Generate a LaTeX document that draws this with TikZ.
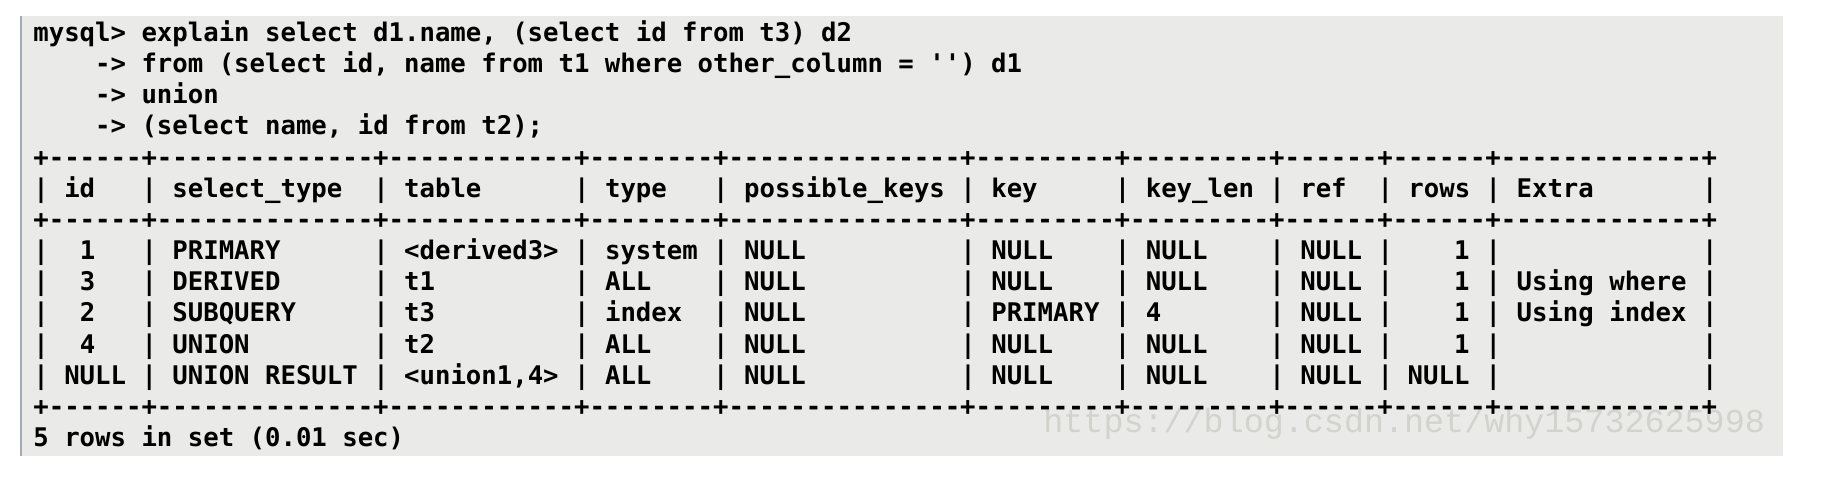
\documentclass[tikz,border=0pt]{standalone}
\usepackage{fontspec}
\setmonofont{DejaVu Sans Mono}
\newfontfamily\markfont{Liberation Mono}
\definecolor{termbg}{HTML}{EAEAE8}
\definecolor{termedge}{HTML}{A2A8B4}
\definecolor{markgray}{HTML}{D3D3CD}
\newcommand\dashrun[1]{\foreach \i in {1,...,#1}{-}}
\newcommand\tblrule{+\dashrun{6}+\dashrun{14}+\dashrun{12}+\dashrun{8}+\dashrun{15}+\dashrun{9}+\dashrun{9}+\dashrun{6}+\dashrun{6}+\dashrun{13}+}
\tikzset {
  % one run of terminal text, set on its base line
  tty/.style = {
    anchor = base west,
    inner sep = 0,
    font = \ttfamily\bfseries\fontsize{12.83pt}{15pt}\selectfont
  },
  % number column, flush right
  ttyr/.style = {
    tty,
    anchor = base east
  },
  % faint blog address
  wmark/.style = {
    anchor = base west,
    inner sep = 0,
    text = markgray,
    font = \markfont\fontsize{16.7pt}{18pt}\selectfont
  }
}

\begin{document}
\begin{tikzpicture}[x=0.5pt, y=-0.5pt]
  \useasboundingbox (0,0) rectangle (1824,482);
  \fill[white] (0,0) rectangle (1824,482);
  \fill[termbg] (20,16) rectangle (1783,456);
  \draw[termedge, line width=1pt] (21,16) -- (21,456);
  \node[wmark] (blog) at (1043,432) {https://blog.csdn.net/why15732625998};

  \begin{scope}[shift={(33,41.5)}, x=7.725pt, y=-15.575pt]
    \node[tty] (query) at (0,0) {mysql> explain select d1.name, (select id from t3) d2};
    \node[tty] (query-from) at (4,1) {-> from (select id, name from t1 where other\_column = '') d1};
    \node[tty] (query-union) at (4,2) {-> union};
    \node[tty] (query-t2) at (4,3) {-> (select name, id from t2);};

    \node[tty] (rule-top) at (0,4) {\tblrule};
    \node[tty] (rule-mid) at (0,6) {\tblrule};
    \node[tty] (rule-end) at (0,12) {\tblrule};

    \foreach \lno in {5,7,8,9,10,11}
      \foreach \c in {0,7,22,35,44,60,70,80,87,94,108}
        \node[tty] (bar-\lno-\c) at (\c,\lno) {|};

    \foreach \c/\h in {2/id, 9/select\_type, 24/table, 37/type, 46/possible\_keys,
      62/key, 72/key\_len, 82/ref, 89/rows, 96/Extra}
      \node[tty] (head-\c) at (\c,5) {\h};

    \foreach \lno/\ic/\idv/\stv/\tbv/\tyv/\kyv/\klv/\rwv/\exv in {
      7/3/1/PRIMARY/<derived3>/system/NULL/NULL/1/{},
      8/3/3/DERIVED/t1/ALL/NULL/NULL/1/Using where,
      9/3/2/SUBQUERY/t3/index/PRIMARY/4/1/Using index,
      10/3/4/UNION/t2/ALL/NULL/NULL/1/{},
      11/2/NULL/UNION RESULT/{<union1,4>}/ALL/NULL/NULL/NULL/{}}
    {
      \node[tty] (id-\lno) at (\ic,\lno) {\idv};
      \node[tty] (stype-\lno) at (9,\lno) {\stv};
      \node[tty] (table-\lno) at (24,\lno) {\tbv};
      \node[tty] (type-\lno) at (37,\lno) {\tyv};
      \node[tty] (pkeys-\lno) at (46,\lno) {NULL};
      \node[tty] (key-\lno) at (62,\lno) {\kyv};
      \node[tty] (keylen-\lno) at (72,\lno) {\klv};
      \node[tty] (ref-\lno) at (82,\lno) {NULL};
      \node[ttyr] (rows-\lno) at (93,\lno) {\rwv};
      \node[tty] (extra-\lno) at (96,\lno) {\exv};
    }

    \node[tty] (summary) at (0,13) {5 rows in set (0.01 sec)};
  \end{scope}
\end{tikzpicture}
\end{document}
